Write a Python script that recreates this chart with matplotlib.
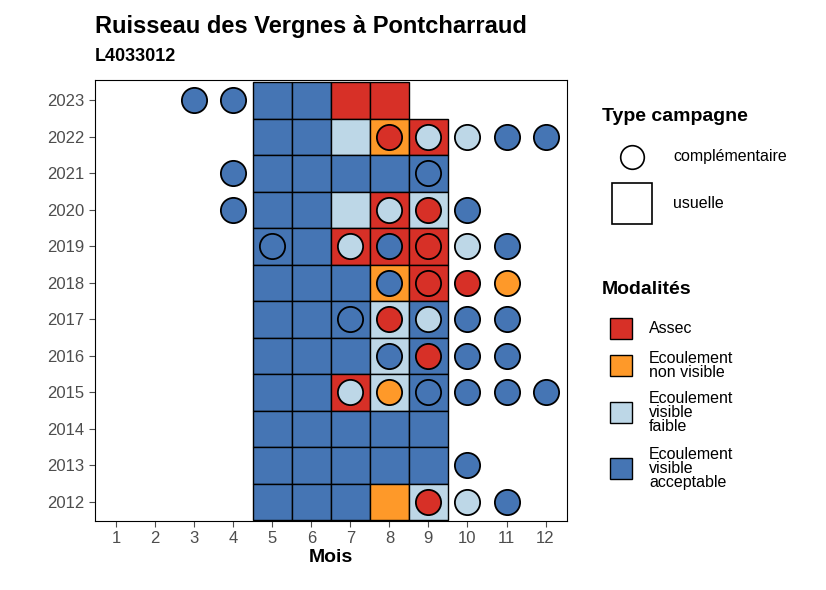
import matplotlib.pyplot as plt
import matplotlib.patches as patches
from matplotlib.lines import Line2D

plt.rcParams['font.family'] = ['Liberation Sans', 'DejaVu Sans']

cols = {'A': '#D73027', 'N': '#FE9929', 'F': '#BDD7E7', 'V': '#4575B4'}
years = list(range(2012, 2024))
months = list(range(1, 13))

# usual campaign tiles: year -> codes for months 5..9
usual = {
    2023: 'VVAA', 2022: 'VVFNA', 2021: 'VVVVV', 2020: 'VVFAF', 2019: 'VVAAA',
    2018: 'VVVNA', 2017: 'VVVFV', 2016: 'VVVFV', 2015: 'VVAFV', 2014: 'VVVVV',
    2013: 'VVVVV', 2012: 'VVVNF',
}
# complementary campaigns: (year, month, code)
compl = [
    (2023, 3, 'V'), (2023, 4, 'V'),
    (2022, 8, 'A'), (2022, 9, 'F'), (2022, 10, 'F'), (2022, 11, 'V'), (2022, 12, 'V'),
    (2021, 4, 'V'), (2021, 9, 'V'),
    (2020, 4, 'V'), (2020, 8, 'F'), (2020, 9, 'A'), (2020, 10, 'V'),
    (2019, 5, 'V'), (2019, 7, 'F'), (2019, 8, 'V'), (2019, 9, 'A'), (2019, 10, 'F'), (2019, 11, 'V'),
    (2018, 8, 'V'), (2018, 9, 'A'), (2018, 10, 'A'), (2018, 11, 'N'),
    (2017, 7, 'V'), (2017, 8, 'A'), (2017, 9, 'F'), (2017, 10, 'V'), (2017, 11, 'V'),
    (2016, 8, 'V'), (2016, 9, 'A'), (2016, 10, 'V'), (2016, 11, 'V'),
    (2015, 7, 'F'), (2015, 8, 'N'), (2015, 9, 'V'), (2015, 10, 'V'), (2015, 11, 'V'), (2015, 12, 'V'),
    (2013, 10, 'V'),
    (2012, 9, 'A'), (2012, 10, 'F'), (2012, 11, 'V'),
]

fig = plt.figure(figsize=(8.26, 5.9), dpi=100)
ax = fig.add_axes([0.115, 0.117, 0.571, 0.747])

for y, codes in usual.items():
    for i, c in enumerate(codes):
        ax.add_patch(patches.Rectangle((5 + i - 0.5, y - 0.5), 1, 1, facecolor=cols[c],
                                       edgecolor='black', lw=1, zorder=2))
for y, m, c in compl:
    ax.scatter(m, y, s=330, facecolor=cols[c], edgecolor='black', lw=1.3, zorder=3)

ax.set_xlim(0.46, 12.54)
ax.set_ylim(2011.48, 2023.55)
ax.set_xticks(months)
ax.set_yticks(years)
ax.tick_params(labelsize=12, colors='#4d4d4d', length=4)
for s in ax.spines.values():
    s.set_linewidth(0.8)
ax.set_xlabel('Mois', fontsize=14, fontweight='bold', labelpad=2)

fig.text(0.115, 0.955, 'Ruisseau des Vergnes à Pontcharraud', fontsize=17, fontweight='bold', va='center')
fig.text(0.115, 0.905, 'L4033012', fontsize=13, fontweight='bold', va='center')

# legend: Type campagne
fig.text(0.729, 0.802, 'Type campagne', fontsize=14, fontweight='bold', va='center')
fig.add_artist(Line2D([0.765], [0.734], marker='o', markersize=17, markerfacecolor='white',
                      markeredgecolor='black', markeredgewidth=1.2, transform=fig.transFigure))
fig.text(0.815, 0.734, 'complémentaire', fontsize=11.5, va='center')
fig.add_artist(patches.Rectangle((0.741, 0.620), 0.048, 0.070, facecolor='white',
                                 edgecolor='black', lw=1.2, transform=fig.transFigure))
fig.text(0.815, 0.655, 'usuelle', fontsize=11.5, va='center')

# legend: Modalités
fig.text(0.729, 0.510, 'Modalités', fontsize=14, fontweight='bold', va='center')
mods = [('A', 'Assec', 0.443), ('N', 'Ecoulement\nnon visible', 0.381),
        ('F', 'Ecoulement\nvisible\nfaible', 0.301), ('V', 'Ecoulement\nvisible\nacceptable', 0.206)]
for c, lab, yc in mods:
    fig.add_artist(patches.Rectangle((0.739, yc - 0.018), 0.026, 0.036, facecolor=cols[c],
                                     edgecolor='black', lw=1, transform=fig.transFigure))
    fig.text(0.786, yc, lab, fontsize=11.5, va='center', linespacing=0.95)

fig.savefig('out.png', dpi=100)
